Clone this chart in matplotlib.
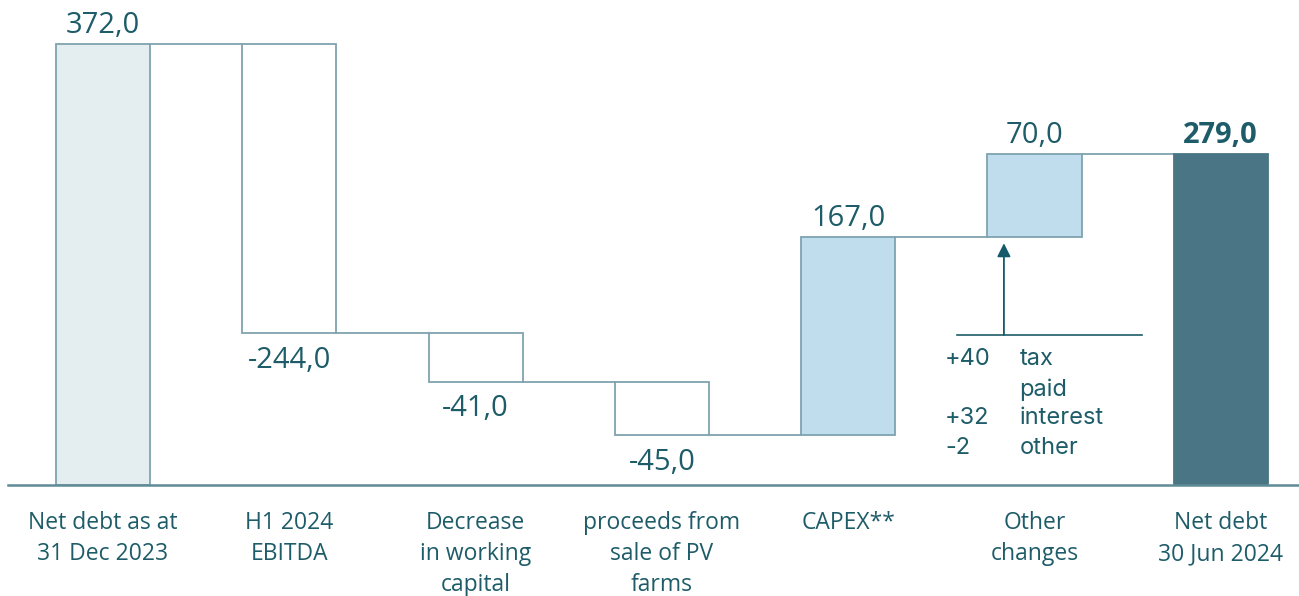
import numpy as np
import matplotlib.pyplot as plt

# Waterfall data
categories = ['Net debt as at\n31 Dec 2023', 'H1 2024\nEBITDA', 'Decrease\nin working\ncapital',
              'proceeds from\nsale of PV\nfarms', 'CAPEX**', 'Other\nchanges', 'Net debt\n30 Jun 2024']
values = [372.0, -244.0, -41.0, -45.0, 167.0, 70.0, 279.0]
value_labels = ['372,0', '-244,0', '-41,0', '-45,0', '167,0', '70,0', '279,0']
kinds = ['total', 'delta', 'delta', 'delta', 'delta', 'delta', 'total']

# breakdown of "Other changes"
other_amounts = ['+40', '', '+32', '-2']
other_items = ['tax', 'paid', 'interest', 'other']

text_col = '#1d5c68'
edge_col = '#7fa3af'
fills = ['#e4eef1', 'white', 'white', 'white', '#c0ddee', '#c0ddee', '#4a7585']

fig = plt.figure(figsize=(12.99, 5.96), dpi=100)
ax = fig.add_axes([0, 0, 1, 1])
ax.set_xlim(-0.553, 6.42)
ax.set_ylim(-93.7, 409.3)
ax.axis('off')

x = np.arange(len(values))
width = 0.505

# compute bottoms / tops
bottoms, tops = [], []
level = 0.0
for v, k in zip(values, kinds):
    if k == 'total':
        bottoms.append(0.0)
        tops.append(v)
        level = v
    else:
        new = level + v
        bottoms.append(min(level, new))
        tops.append(max(level, new))
        level = new

heights = np.array(tops) - np.array(bottoms)
for i in range(len(values)):
    ec = fills[i] if i == len(values) - 1 else edge_col
    ax.bar(x[i], heights[i], width, bottom=bottoms[i], color=fills[i],
           edgecolor=ec, linewidth=1.3, zorder=2)

# connectors
level = 0.0
levels = []
for v, k in zip(values, kinds):
    level = v if k == 'total' else level + v
    levels.append(level)
for i in range(len(values) - 1):
    ax.plot([x[i] + width / 2, x[i + 1] - width / 2], [levels[i], levels[i]],
            color=edge_col, lw=1.3, zorder=1)

# baseline
ax.plot([-0.51, 6.42], [0, 0], color='#5f8b96', lw=1.8, zorder=3)

# value labels
for i, v in enumerate(values):
    bold = (i == len(values) - 1)
    if v >= 0:
        ax.annotate(value_labels[i], (x[i], tops[i]), xytext=(0, 3), textcoords='offset points',
                    ha='center', va='bottom', fontsize=21, color=text_col,
                    family='Open Sans', fontweight='bold' if bold else 'normal')
    else:
        ax.annotate(value_labels[i], (x[i], bottoms[i]), xytext=(0, -9), textcoords='offset points',
                    ha='center', va='top', fontsize=21, color=text_col, family='Open Sans')

# category labels
for i, c in enumerate(categories):
    ax.text(x[i], -22, c, ha='center', va='top', fontsize=16.5, color=text_col,
            family='Open Sans', linespacing=1.4)

# other changes annotation
ax_x = 4.836
ax.plot([4.584, 5.577], [126.6, 126.6], color=text_col, lw=1.2)
ax.annotate('', xy=(ax_x, bottoms[5] - 5), xytext=(ax_x, 126.6),
            arrowprops=dict(arrowstyle='-|>', color='#15596a', lw=1.3,
                            mutation_scale=20, shrinkA=0, shrinkB=0))
rows_y = [106, 80.7, 56.2, 30.9]
for a, t, yy in zip(other_amounts, other_items, rows_y):
    ax.text(4.52, yy, a, ha='left', va='center', fontsize=17, color=text_col, family='Inter')
    ax.text(4.92, yy, t, ha='left', va='center', fontsize=17, color=text_col, family='Inter')

fig.savefig('out.png', dpi=100, facecolor='white')
